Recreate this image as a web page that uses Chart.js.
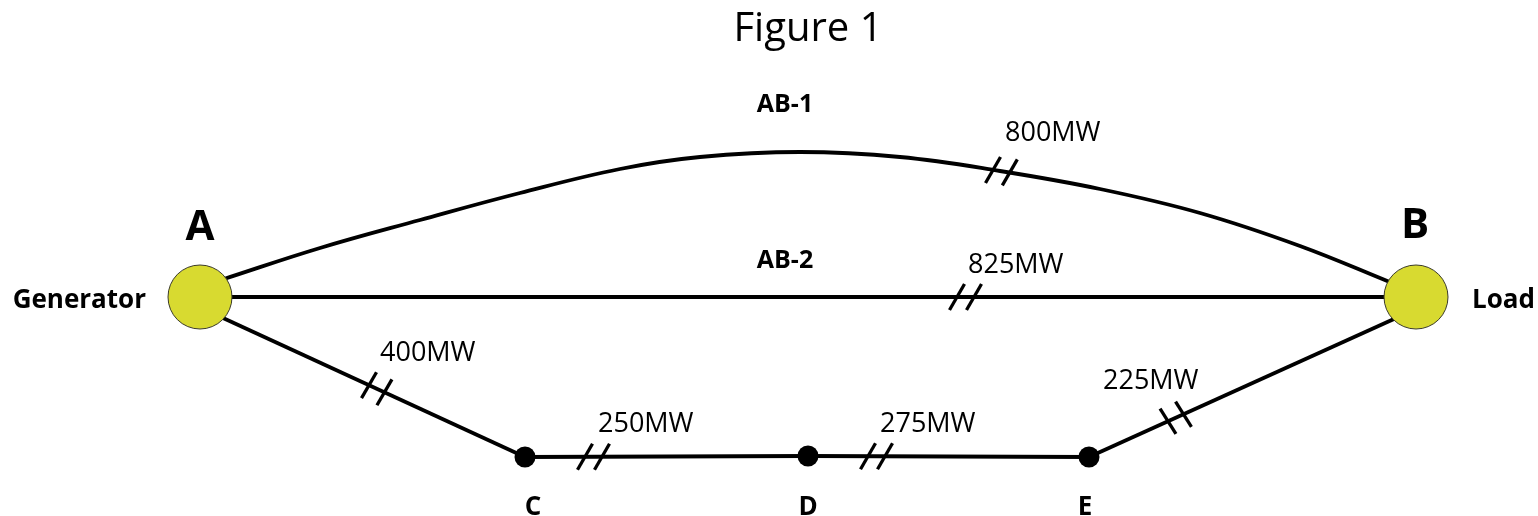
<!DOCTYPE html>
<html><head><meta charset="utf-8">
<script src="https://cdn.jsdelivr.net/npm/chart.js@4"></script>
<style>html,body{margin:0;padding:0;background:#fff;overflow:hidden}canvas{display:block}</style>
</head><body>
<canvas id="c" width="1538" height="516"></canvas>
<script>
// ---- data (diagram units) ----
const nodeNames = ['A', 'B', 'C', 'D', 'E'];
const nodeRoles = ['Generator', 'Load', '', '', ''];
const nodeX = [200, 1416, 525, 808, 1089];
const nodeY = [297, 297, 457, 456, 457];

const lineNames = ['AB-1', 'AB-2', 'A-C', 'C-D', 'D-E', 'E-B'];
const lineCapacityMW = [800, 825, 400, 250, 275, 225];

const ab1X = [224, 320, 420, 520, 620, 700, 800, 900, 1000, 1100, 1200, 1300, 1392];
const ab1Y = [279, 248, 220, 193, 169, 157, 152, 157, 171, 189, 213, 246, 283];
const ab2X = [200, 1416];
const ab2Y = [297, 297];
const acX = [210, 525];
const acY = [312, 457];
const cdX = [525, 808];
const cdY = [457, 456];
const deX = [808, 1089];
const deY = [456, 457];
const ebX = [1089, 1405];
const ebY = [457, 314];

const markerAtX = [993, 957, 369, 585, 868, 1168];

const title = 'Figure 1';

// ---- presentation ----
const lineXs = [ab1X, ab2X, acX, cdX, deX, ebX];
const lineYs = [ab1Y, ab2Y, acY, cdY, deY, ebY];
const markerAngle = [-60, -60, -60, -60, -60, 58];
const capLabelOffset = [[12, -29], [11, -24], [11, -24], [13, -25], [12, -24], [-65, -32]];
const nodeLabelOffset = [[0, -57], [-1, -59], [8, 58], [0, 59], [-4, 58]];
const nodeLabelSize = [42, 42, 26, 26, 26];
const roleOffset = [[-54, 11], [56, 11]];
const lineNameLabel = [[785, 112], [785, 268]];
const FONT = '"Open Sans", "Noto Sans", sans-serif';

const datasets = [{
  label: 'nodes',
  order: 0,
  data: nodeX.map((x, i) => ({x, y: nodeY[i]})),
  pointRadius: [32, 32, 10.5, 10.5, 10.5],
  pointHoverRadius: [32, 32, 10.5, 10.5, 10.5],
  backgroundColor: ['#d8da30', '#d8da30', '#000', '#000', '#000'],
  borderColor: ['#3a3a2a', '#3a3a2a', '#000', '#000', '#000'],
  borderWidth: [1, 1, 0, 0, 0],
  showLine: false,
  clip: false
}];
lineNames.forEach((name, i) => {
  datasets.push({
    label: name,
    order: 1,
    data: lineXs[i].map((x, k) => ({x, y: lineYs[i][k]})),
    showLine: true,
    borderColor: '#000',
    borderWidth: 3.8,
    pointRadius: 0,
    pointHoverRadius: 0,
    tension: i === 0 ? 0.4 : 0,
    clip: false
  });
});

const diagramPlugin = {
  id: 'diagram',
  afterDatasetsDraw(chart) {
    const {ctx, scales: {x, y}} = chart;
    ctx.save();
    ctx.fillStyle = '#000';
    ctx.strokeStyle = '#000';
    ctx.lineWidth = 3.3;
    ctx.lineCap = 'butt';
    ctx.textBaseline = 'alphabetic';

    // capacity markers and labels
    lineNames.forEach((name, i) => {
      const xs = lineXs[i], ys = lineYs[i], mx = markerAtX[i];
      let k = 0;
      while (k < xs.length - 2 && mx > xs[k + 1]) k++;
      const t = (mx - xs[k]) / (xs[k + 1] - xs[k]);
      const my = ys[k] + t * (ys[k + 1] - ys[k]);
      const px = x.getPixelForValue(mx), py = y.getPixelForValue(my);
      const dx = x.getPixelForValue(xs[k + 1]) - x.getPixelForValue(xs[k]);
      const dy = y.getPixelForValue(ys[k + 1]) - y.getPixelForValue(ys[k]);
      const len = Math.hypot(dx, dy), ux = dx / len, uy = dy / len;
      const a = markerAngle[i] * Math.PI / 180;
      const sx = Math.cos(a) * 15, sy = Math.sin(a) * 15;
      for (const off of [0, 17]) {
        const cx = px + ux * off, cy = py + uy * off;
        ctx.beginPath();
        ctx.moveTo(cx - sx, cy - sy);
        ctx.lineTo(cx + sx, cy + sy);
        ctx.stroke();
      }
      ctx.font = '27px ' + FONT;
      ctx.textAlign = 'left';
      ctx.fillText(lineCapacityMW[i] + 'MW', px + capLabelOffset[i][0], py + capLabelOffset[i][1]);
    });

    // line names
    ctx.font = 'bold 25px ' + FONT;
    ctx.textAlign = 'center';
    [0, 1].forEach(i => {
      ctx.fillText(lineNames[i], x.getPixelForValue(lineNameLabel[i][0]), y.getPixelForValue(lineNameLabel[i][1]));
    });

    // node labels
    nodeNames.forEach((n, i) => {
      const px = x.getPixelForValue(nodeX[i]), py = y.getPixelForValue(nodeY[i]);
      ctx.font = 'bold ' + nodeLabelSize[i] + 'px ' + FONT;
      ctx.textAlign = 'center';
      ctx.fillText(n, px + nodeLabelOffset[i][0], py + nodeLabelOffset[i][1]);
      if (nodeRoles[i]) {
        ctx.font = 'bold 26px ' + FONT;
        ctx.textAlign = i === 0 ? 'right' : 'left';
        ctx.fillText(nodeRoles[i], px + roleOffset[i][0], py + roleOffset[i][1]);
      }
    });

    // title
    ctx.font = '40px ' + FONT;
    ctx.textAlign = 'center';
    ctx.fillText(title, x.getPixelForValue(808), y.getPixelForValue(41));
    ctx.restore();
  }
};

new Chart(document.getElementById('c'), {
  type: 'scatter',
  data: {datasets},
  options: {
    responsive: false,
    devicePixelRatio: 1,
    animation: false,
    events: [],
    layout: {padding: 0, autoPadding: false},
    plugins: {legend: {display: false}, title: {display: false}, tooltip: {enabled: false}},
    scales: {
      x: {type: 'linear', min: 0, max: 1538, display: false},
      y: {type: 'linear', min: 0, max: 516, reverse: true, display: false}
    }
  },
  plugins: [diagramPlugin]
});
</script>
</body></html>
